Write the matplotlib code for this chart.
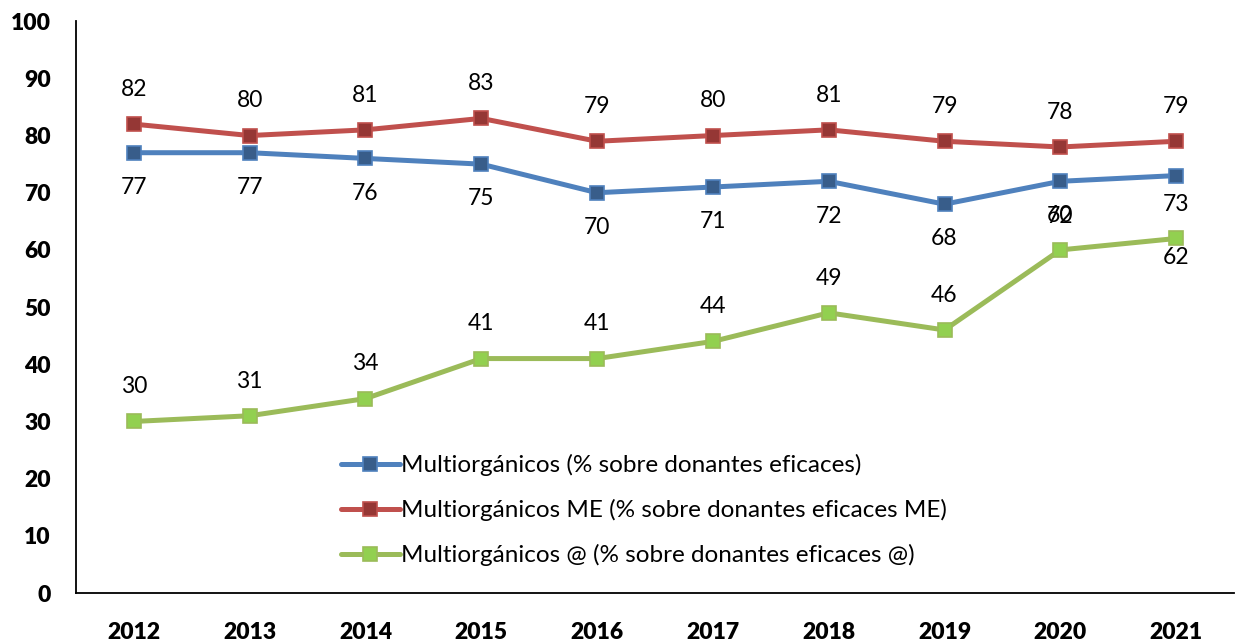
import matplotlib
matplotlib.use("Agg")
import matplotlib.pyplot as plt

years = ["2012", "2013", "2014", "2015", "2016", "2017", "2018", "2019", "2020", "2021"]
multi = [77, 77, 76, 75, 70, 71, 72, 68, 72, 73]
multi_me = [82, 80, 81, 83, 79, 80, 81, 79, 78, 79]
multi_at = [30, 31, 34, 41, 41, 44, 49, 46, 60, 62]
labels = ["Multiorgánicos (% sobre donantes eficaces)",
          "Multiorgánicos ME (% sobre donantes eficaces ME)",
          "Multiorgánicos @ (% sobre donantes eficaces @)"]

plt.rcParams['font.family'] = ['Lato', 'DejaVu Sans']

fig = plt.figure(figsize=(12.37, 6.42), dpi=100)
ax = fig.add_axes([0.0614, 0.0763, 0.9362, 0.8907])

x = list(range(len(years)))
series = [
    (multi, "#4F81BD", "#385D8A", "below"),
    (multi_me, "#C0504D", "#953735", "above"),
    (multi_at, "#9BBB59", "#92D050", "above"),
]
handles = []
for (vals, lc, mc, pos), lab in zip(series, labels):
    h, = ax.plot(x, vals, color=lc, lw=3.6, marker="s", markersize=10,
                 markerfacecolor=mc, markeredgecolor=lc, markeredgewidth=1.2,
                 label=lab, solid_capstyle="round")
    handles.append(h)
    for i, v in enumerate(vals):
        off = 25 if pos == "above" else -25
        if vals is multi and i == 9:
            off = -21
        if vals is multi_at and i == 9:
            off = -14
        ax.annotate(str(v), (i, v), xytext=(0, off), textcoords="offset points",
                    ha="center", va="center", fontsize=16.5, color="black")

ax.set_xlim(-0.5, len(years) - 0.5)
ax.set_ylim(0, 100)
ax.set_yticks(range(0, 101, 10))
ax.set_xticks(x)
ax.set_xticklabels(years)
for s in ["top", "right"]:
    ax.spines[s].set_visible(False)
ax.spines["left"].set_linewidth(1.3)
ax.spines["bottom"].set_linewidth(1.3)
ax.tick_params(axis="both", length=0, labelsize=16.5)
ax.tick_params(axis="y", pad=18)
ax.tick_params(axis="x", pad=21)
for t in ax.get_xticklabels() + ax.get_yticklabels():
    t.set_fontweight("heavy")

leg = ax.legend(handles=handles, loc="upper left", bbox_to_anchor=(0.268, 0.308),
                bbox_transform=fig.transFigure, frameon=False, fontsize=17.5,
                handlelength=2.4, handletextpad=0.05, labelspacing=0.95,
                borderaxespad=0)

fig.savefig("out.png", dpi=100)
